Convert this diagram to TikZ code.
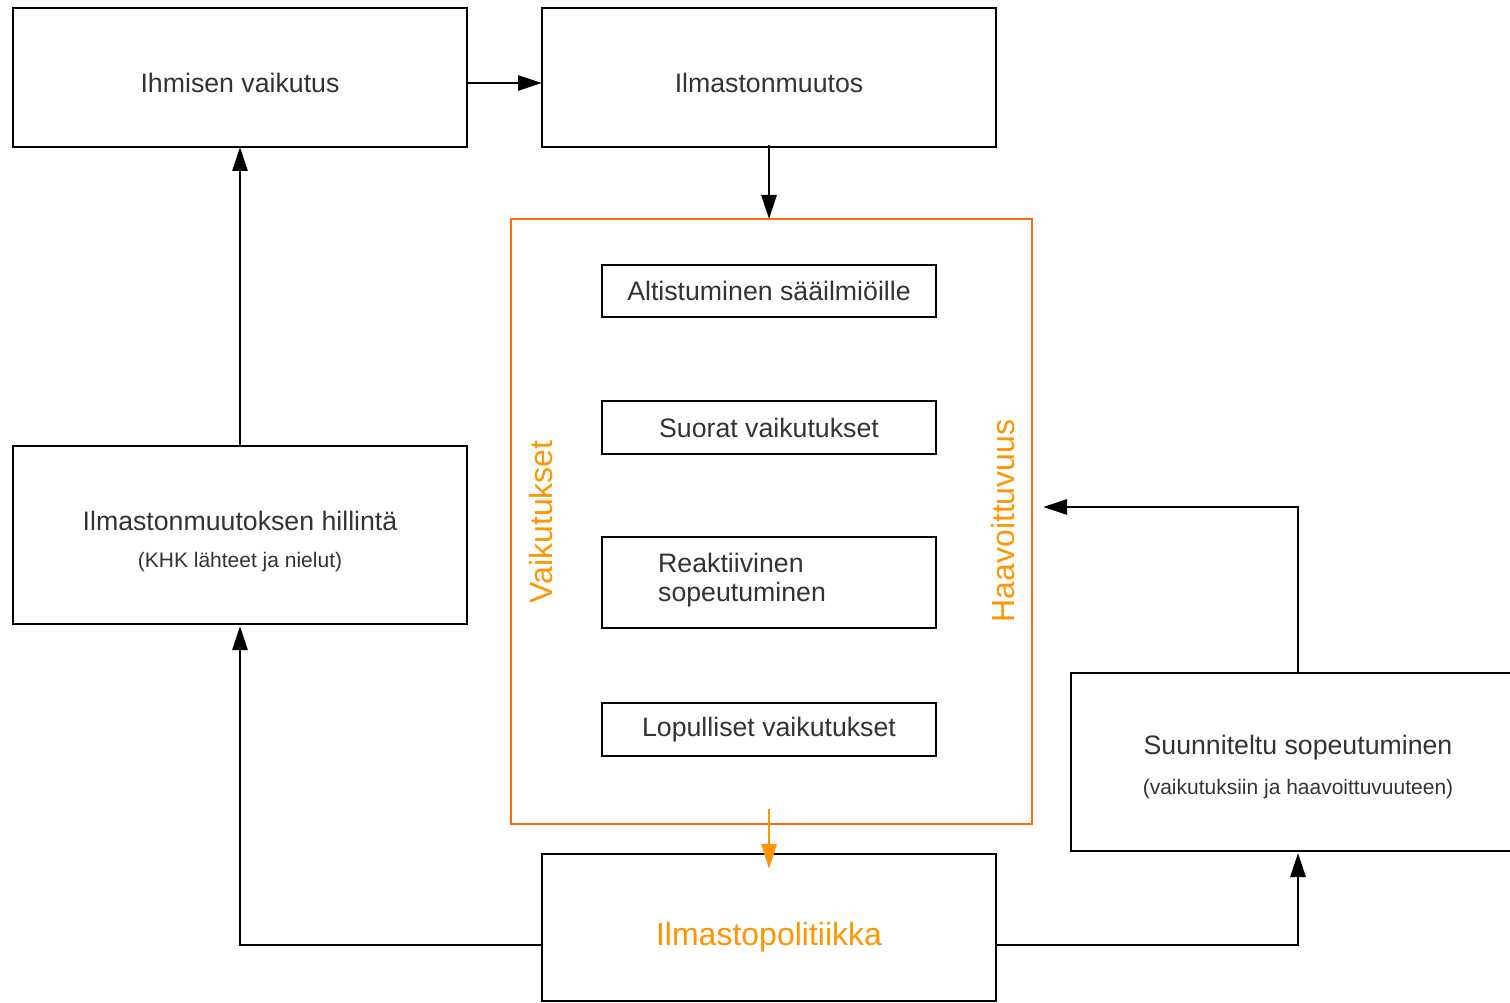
\documentclass[tikz,border=0pt]{standalone}
\usepackage{fontspec}
\setmainfont{Liberation Sans}
\usetikzlibrary{arrows.meta}
\definecolor{txt}{HTML}{333333}
\definecolor{orbox}{HTML}{FF6A10}
\definecolor{ortxt}{HTML}{FF9500}
\tikzset{
  box/.style={draw=black, line width=2.8pt, fill=white, inner sep=0pt},
  ibox/.style={draw=black, line width=2.8pt, fill=white, inner sep=0pt},
  lbl/.style={text=txt, font=\fontsize{26.7}{32}\selectfont, inner sep=0pt},
  sub/.style={text=txt, font=\fontsize{21}{25}\selectfont, inner sep=0pt},
  vlbl/.style={text=ortxt, font=\fontsize{32}{36}\selectfont, rotate=90, inner sep=0pt},
  conn/.style={line width=2.8pt, -{Triangle[length=24pt,width=15pt]}},
}
\begin{document}
\begin{tikzpicture}[x=1pt,y=-1pt]
\useasboundingbox (0,0) rectangle (1510,1003);
\clip (0,0) rectangle (1510,1003);
% main boxes
\draw[box] (13,8) rectangle (467,147);
\node[lbl] (ihm) at (240,83) {Ihmisen vaikutus};
\coordinate (ihmR) at (467,83);
\coordinate (ihmB) at (240,147);
\draw[box] (542,8) rectangle (996,147);
\node[lbl] (ilm) at (769,83) {Ilmastonmuutos};
\coordinate (ilmL) at (542,83);
\coordinate (ilmB) at (769,145);
% orange frame
\draw[draw=orbox, line width=2.2pt] (511,219) rectangle (1032,824);
\coordinate (orT) at (769,219);
\coordinate (orR) at (1043,507);
\node[vlbl] (vai) at (541,522) {Vaikutukset};
\node[vlbl] (haa) at (1003,521) {Haavoittuvuus};
% inner boxes
\draw[ibox] (602,265) rectangle (936,317);
\node[lbl] (alt) at (769,291) {Altistuminen sääilmiöille};
\draw[ibox] (602,401) rectangle (936,454);
\node[lbl] (suo) at (769,428) {Suorat vaikutukset};
\draw[ibox] (602,537) rectangle (936,628);
\node[lbl, anchor=west] (rea1) at (658,563) {Reaktiivinen};
\node[lbl, anchor=west] (rea2) at (658,595) {sopeutuminen};
\draw[ibox] (602,703) rectangle (936,756);
\node[lbl] (lop) at (769,730) {Lopulliset vaikutukset};
% mitigation
\draw[box] (13,446) rectangle (467,624);
\node[lbl] (hil) at (240,521) {Ilmastonmuutoksen hillintä};
\node[sub] (hil2) at (240,562) {(KHK lähteet ja nielut)};
\coordinate (hilT) at (240,446);
\coordinate (hilB) at (240,626);
% policy
\draw[box] (542,854) rectangle (996,1001);
\node[text=ortxt, font=\fontsize{32}{36}\selectfont, inner sep=0pt] (pol) at (769,937) {Ilmastopolitiikka};
\coordinate (polL) at (542,945);
\coordinate (polR) at (996,945);
\coordinate (polT) at (769,869);
\coordinate (orB) at (769,809);
% planned adaptation
\draw[box] (1071,673) rectangle (1530,851);
\node[lbl] (suu) at (1298,748) {Suunniteltu sopeutuminen};
\node[sub] (suu2) at (1298,789) {(vaikutuksiin ja haavoittuvuuteen)};
\coordinate (suuT) at (1298,673);
\coordinate (suuB) at (1298,853);
% connectors
\draw[conn] (ihmR) -- (ilmL);
\draw[conn] (ilmB) -- (orT);
\draw[conn] (hilT) -- (ihmB);
\draw[conn] (polL) -| (hilB);
\draw[conn] (polR) -| (suuB);
\draw[conn] (suuT) |- (orR);
\draw[line width=2.8pt, draw=ortxt, -{Triangle[length=25pt,width=15pt]}, ortxt] (orB) -- (polT);
\end{tikzpicture}
\end{document}
